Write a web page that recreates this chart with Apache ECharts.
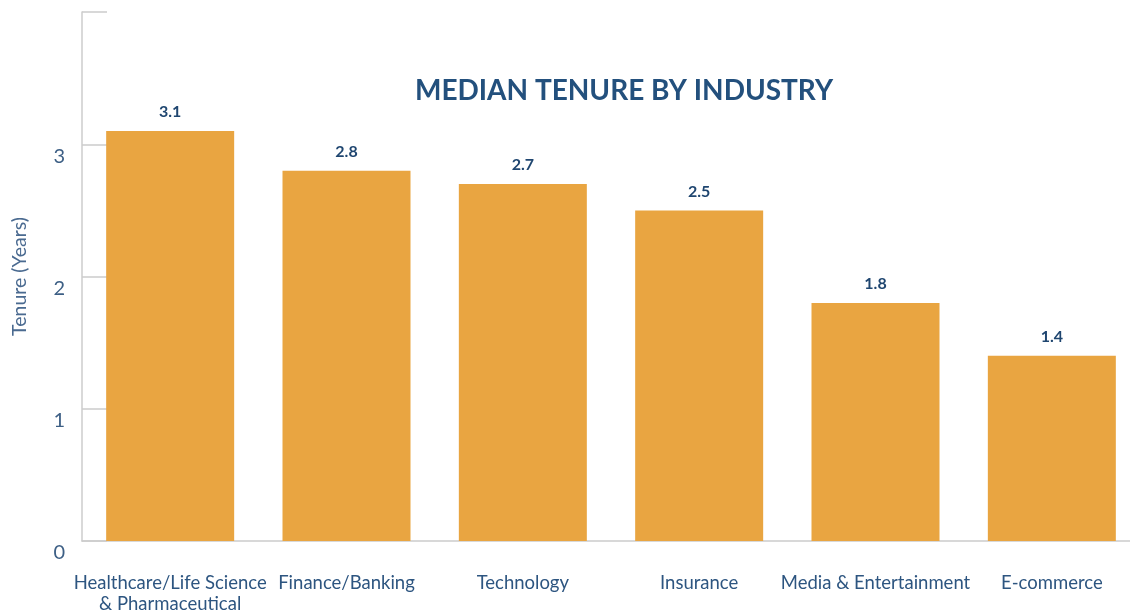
<!DOCTYPE html>
<html>
<head>
<meta charset="utf-8">
<script src="https://cdn.jsdelivr.net/npm/echarts@6/dist/echarts.min.js"></script>
<style>
  html, body { margin: 0; padding: 0; background: #fff; }
  #chart { width: 1130px; height: 611px; }
</style>
</head>
<body>
<div id="chart"></div>
<script>
var industries = ['Healthcare/Life Science\n& Pharmaceutical', 'Finance/Banking', 'Technology', 'Insurance', 'Media & Entertainment', 'E-commerce'];
var tenureYears = [3.1, 2.8, 2.7, 2.5, 1.8, 1.4];
var yTicks = [0, 1, 2, 3, 4];

var chart = echarts.init(document.getElementById('chart'));

var option = {
    backgroundColor: '#ffffff',
    textStyle: { fontFamily: 'Lato' },
    title: {
        text: 'MEDIAN TENURE BY INDUSTRY',
        left: 619,
        top: 72,
        textAlign: 'center',
        textStyle: { color: '#23507d', fontSize: 28, fontWeight: 'bold', fontFamily: 'Lato' }
    },
    grid: { left: 82, right: -10, top: 12, bottom: 70, containLabel: false, outerBoundsMode: 'none' },
    xAxis: {
        type: 'category',
        data: industries,
        axisLine: { lineStyle: { color: '#cccccc', width: 1.5 } },
        axisTick: { inside: true, length: 15, interval: 0, lineStyle: { color: '#cccccc', width: 1.5 } },
        axisLabel: { color: '#2d5580', fontSize: 18.5, margin: 32, lineHeight: 21, interval: 0 }
    },
    yAxis: {
        type: 'value',
        min: yTicks[0],
        max: yTicks[yTicks.length - 1],
        interval: 1,
        name: 'Tenure (Years)',
        nameLocation: 'middle',
        nameGap: 52,
        nameTextStyle: { color: '#4a6a90', fontSize: 19.5 },
        axisLine: { show: true, lineStyle: { color: '#cccccc', width: 1.5 } },
        axisTick: { show: true, inside: true, length: 25, lineStyle: { color: '#cccccc', width: 1.5 } },
        splitLine: { show: false },
        axisLabel: {
            color: '#3d5f85',
            fontSize: 20,
            margin: 17,
            verticalAlign: 'top',
            padding: [2, 0, 0, 0],
            formatter: function (v) { return v === yTicks[yTicks.length - 1] ? '' : String(v); }
        }
    },
    series: [{
        type: 'bar',
        data: tenureYears,
        barWidth: 128,
        itemStyle: { color: '#e9a541' },
        label: {
            show: true,
            position: 'top',
            distance: 11,
            color: '#1f4670',
            fontSize: 16,
            fontWeight: 'bold'
        }
    }]
};

chart.setOption(option);
</script>
</body>
</html>
